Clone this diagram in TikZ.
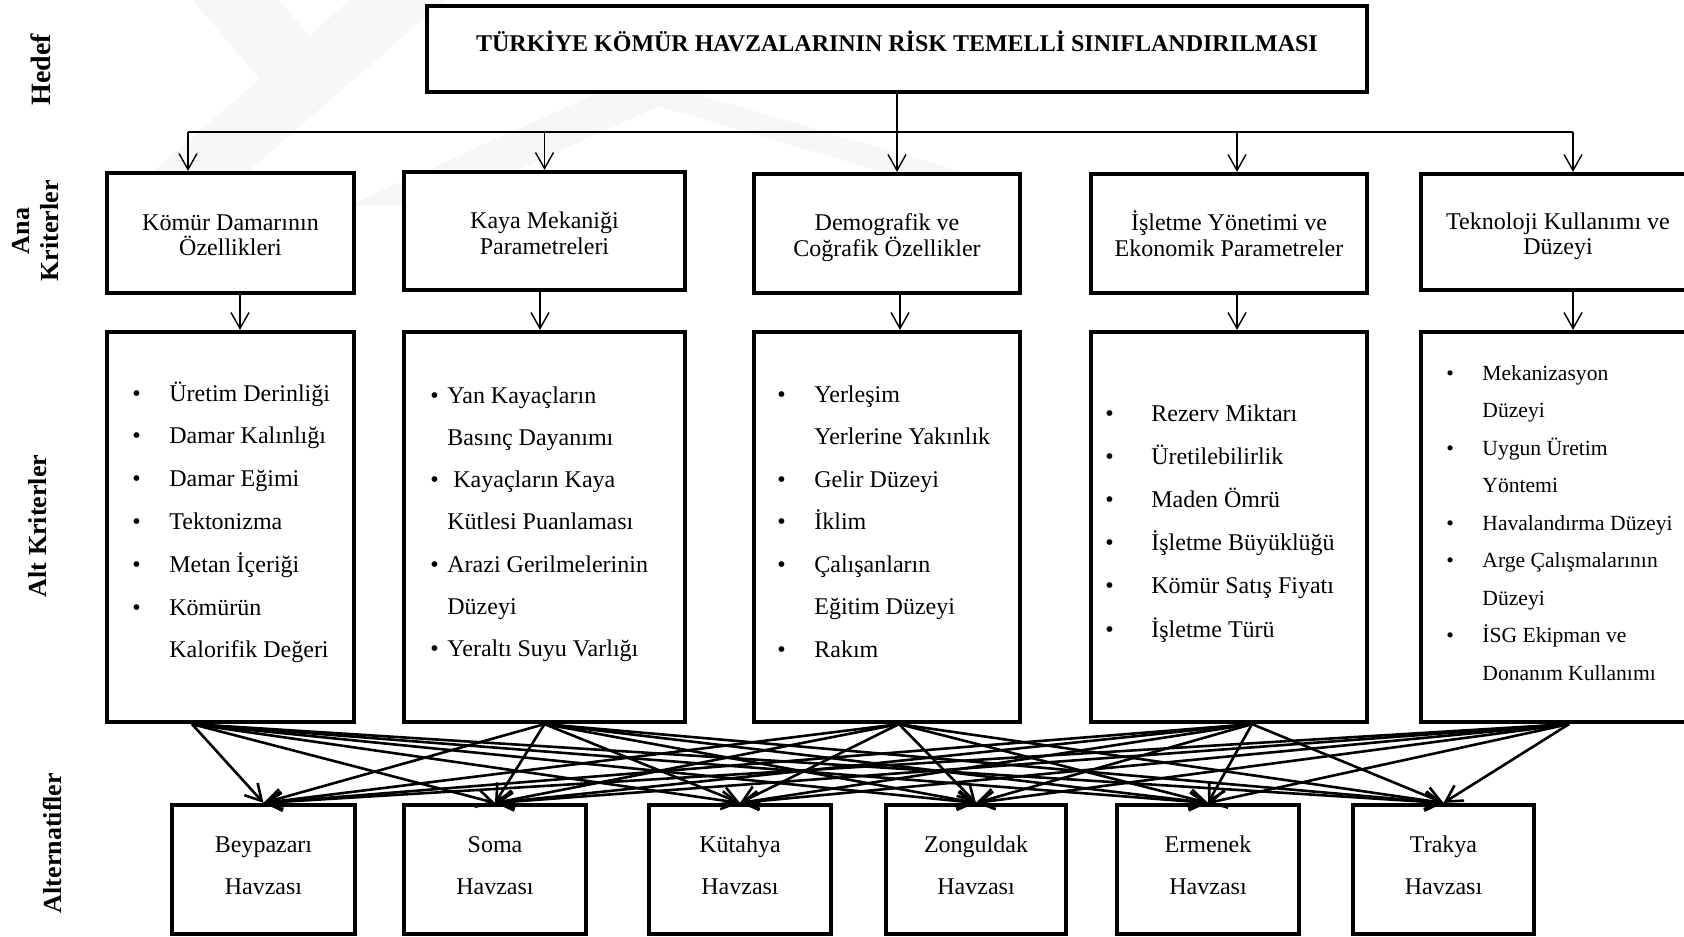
\documentclass[tikz,border=0pt]{standalone}
\usepackage{fontspec}
\setmainfont{Liberation Serif}
\usetikzlibrary{arrows.meta}
\newcommand{\bi}[1]{\makebox[#1][l]{\textbullet}}
% fixed first-line height and last-line depth for two-line box texts
\newcommand{\tophi}[1]{\rule{0pt}{#1}}
\newcommand{\botlo}[1]{\rule[-#1]{0pt}{#1}}
\begin{document}
\begin{tikzpicture}[x=0.5pt,y=-0.5pt,
  boxx/.style={draw, fill=white, line width=2.1pt, inner sep=0pt, align=center},
  body/.style={font=\fontsize{12pt}{13pt}\selectfont},
  altbody/.style={font=\fontsize{12pt}{21pt}\selectfont},
  sidelabel/.style={rotate=90, font=\fontsize{13pt}{14.5pt}\selectfont\bfseries, align=center, inner sep=0pt},
  itemlist/.style={anchor=base west, inner sep=0pt},
  thinarrow/.style={line width=0.7pt, -{Straight Barb[length=8pt,width=9pt]}},
  fanarrow/.style={line width=1.3pt, -{Straight Barb[length=8pt,width=9pt]}},
  wmark/.style={fill=gray!6, draw=none}
]
\clip (0,0) rectangle (1684,936);
\fill[white] (0,0) rectangle (1684,936);

% faint background logo
\fill[wmark] (193,0) -- (279,0) -- (345,78) -- (259,78) -- cycle;
\fill[wmark] (350,0) -- (445,0) -- (204,210) -- (109,210) -- cycle;
\fill[wmark] (600,92) -- (690,92) -- (440,205) -- (350,205) -- cycle;
\fill[wmark] (610,92) -- (690,92) -- (990,180) -- (910,180) -- cycle;

% goal
\node[boxx, minimum width=470pt, minimum height=43pt] (goal) at (897,49) {};
\node[font=\fontsize{12pt}{14pt}\selectfont\bfseries] (title) at (897,41)
  {TÜRKİYE KÖMÜR HAVZALARININ RİSK TEMELLİ SINIFLANDIRILMASI};

% main criteria
\node[boxx, body, minimum width=123.5pt, minimum height=60pt] (k1) at (230.5,233)
  {\tophi{13pt}Kömür Damarının\\Özellikleri\botlo{3pt}};
\node[boxx, body, minimum width=140.5pt, minimum height=59pt] (k2) at (544.5,231)
  {\tophi{13pt}Kaya Mekaniği\\Parametreleri\botlo{3pt}};
\node[boxx, body, minimum width=133pt, minimum height=59.5pt] (k3) at (887,233.5)
  {\tophi{13pt}Demografik ve\\Coğrafik Özellikler\botlo{3pt}};
\node[boxx, body, minimum width=138pt, minimum height=59.5pt] (k4) at (1229,233.5)
  {\tophi{13pt}İşletme Yönetimi ve\\Ekonomik Parametreler\botlo{3pt}};
\node[boxx, body, minimum width=137pt, minimum height=58pt] (k5) at (1558,232)
  {\tophi{13pt}Teknoloji Kullanımı ve\\Düzeyi\botlo{3pt}};

% sub-criteria frames
\node[boxx, minimum width=123.5pt, minimum height=195pt] (a1) at (230.5,527) {};
\node[boxx, minimum width=140.5pt, minimum height=195pt] (a2) at (544.5,527) {};
\node[boxx, minimum width=133pt, minimum height=195pt] (a3) at (887,527) {};
\node[boxx, minimum width=138pt, minimum height=195pt] (a4) at (1229,527) {};
\node[boxx, minimum width=137pt, minimum height=195pt] (a5) at (1558,527) {};

% sub-criteria lists
\node[itemlist, font=\fontsize{12pt}{21.4pt}\selectfont] (l1) at (132,401) {%
\begin{tabular}[t]{@{}l@{}}
\bi{18.5pt}Üretim Derinliği\\
\bi{18.5pt}Damar Kalınlığı\\
\bi{18.5pt}Damar Eğimi\\
\bi{18.5pt}Tektonizma\\
\bi{18.5pt}Metan İçeriği\\
\bi{18.5pt}Kömürün\\
\hspace*{18.5pt}Kalorifik Değeri
\end{tabular}};
\node[itemlist, font=\fontsize{12pt}{21.15pt}\selectfont] (l2) at (430,403) {%
\begin{tabular}[t]{@{}l@{}}
\bi{8.5pt}Yan Kayaçların\\
\hspace*{8.5pt}Basınç Dayanımı\\
\bi{8.5pt}\ Kayaçların Kaya\\
\hspace*{8.5pt}Kütlesi Puanlaması\\
\bi{8.5pt}Arazi Gerilmelerinin\\
\hspace*{8.5pt}Düzeyi\\
\bi{8.5pt}Yeraltı Suyu Varlığı
\end{tabular}};
\node[itemlist, font=\fontsize{12pt}{21.25pt}\selectfont] (l3) at (777,402) {%
\begin{tabular}[t]{@{}l@{}}
\bi{18.5pt}Yerleşim\\
\hspace*{18.5pt}Yerlerine Yakınlık\\
\bi{18.5pt}Gelir Düzeyi\\
\bi{18.5pt}İklim\\
\bi{18.5pt}Çalışanların\\
\hspace*{18.5pt}Eğitim Düzeyi\\
\bi{18.5pt}Rakım
\end{tabular}};
\node[itemlist, font=\fontsize{12pt}{21.6pt}\selectfont] (l4) at (1105,421) {%
\begin{tabular}[t]{@{}l@{}}
\bi{23pt}Rezerv Miktarı\\
\bi{23pt}Üretilebilirlik\\
\bi{23pt}Maden Ömrü\\
\bi{23pt}İşletme Büyüklüğü\\
\bi{23pt}Kömür Satış Fiyatı\\
\bi{23pt}İşletme Türü
\end{tabular}};
\node[itemlist, font=\fontsize{10.8pt}{18.75pt}\selectfont] (l5) at (1446,380) {%
\begin{tabular}[t]{@{}l@{}}
\bi{18pt}Mekanizasyon\\
\hspace*{18pt}Düzeyi\\
\bi{18pt}Uygun Üretim\\
\hspace*{18pt}Yöntemi\\
\bi{18pt}Havalandırma Düzeyi\\
\bi{18pt}Arge Çalışmalarının\\
\hspace*{18pt}Düzeyi\\
\bi{18pt}İSG Ekipman ve\\
\hspace*{18pt}Donanım Kullanımı
\end{tabular}};

% alternatives
\node[boxx, altbody, minimum width=91.5pt, minimum height=64.5pt] (h1) at (263.5,869.5) {\tophi{9pt}Beypazarı\\Havzası\botlo{5.5pt}};
\node[boxx, altbody, minimum width=91pt, minimum height=64.5pt] (h2) at (495,869.5) {\tophi{9pt}Soma\\Havzası\botlo{5.5pt}};
\node[boxx, altbody, minimum width=91pt, minimum height=64.5pt] (h3) at (740,869.5) {\tophi{9pt}Kütahya\\Havzası\botlo{5.5pt}};
\node[boxx, altbody, minimum width=90pt, minimum height=64.5pt] (h4) at (976,869.5) {\tophi{9pt}Zonguldak\\Havzası\botlo{5.5pt}};
\node[boxx, altbody, minimum width=91pt, minimum height=64.5pt] (h5) at (1208,869.5) {\tophi{9pt}Ermenek\\Havzası\botlo{5.5pt}};
\node[boxx, altbody, minimum width=90.5pt, minimum height=64.5pt] (h6) at (1443.5,869.5) {\tophi{9pt}Trakya\\Havzası\botlo{5.5pt}};

% level labels
\node[sidelabel, font=\fontsize{14pt}{16pt}\selectfont\bfseries] (lh) at (41,70) {Hedef};
\node[sidelabel] (la) at (35.5,231) {Ana\\Kriterler};
\node[sidelabel] (lk) at (38,526) {Alt Kriterler};
\node[sidelabel] (lx) at (52,843) {Alternatifler};

% goal to main criteria
\coordinate (busL) at (188,132);
\coordinate (busR) at (1573,132);
\coordinate (k4in) at ([xshift=4pt]k4.north);
\draw[line width=0.7pt] (busL) -- (busR);
\draw[thinarrow] (goal.south) -- (goal.south |- k3.north);
\draw[thinarrow] (busL) -- (busL |- k1.north);
\draw[thinarrow] (k2.north |- busL) -- (k2.north);
\draw[thinarrow] (k4in |- busL) -- (k4in);
\draw[thinarrow] (busR) -- (busR |- k5.north);

% main criteria to sub-criteria
\foreach \i/\s in {1/4.75,2/-2.25,3/6.5,4/4,5/7.5}
  \draw[thinarrow] ([xshift=\s pt]k\i.south) -- ([xshift=\s pt]a\i.north);

% sub-criteria to every alternative
\foreach \i/\s in {1/-19.25,2/0,3/6,4/11.5,5/5.5}
  \coordinate (src\i) at ([xshift=\s pt]a\i.south);
\foreach \i in {1,...,5}
  \foreach \j in {1,...,6}
    \draw[fanarrow] (src\i) -- (h\j.north);
\end{tikzpicture}
\end{document}
